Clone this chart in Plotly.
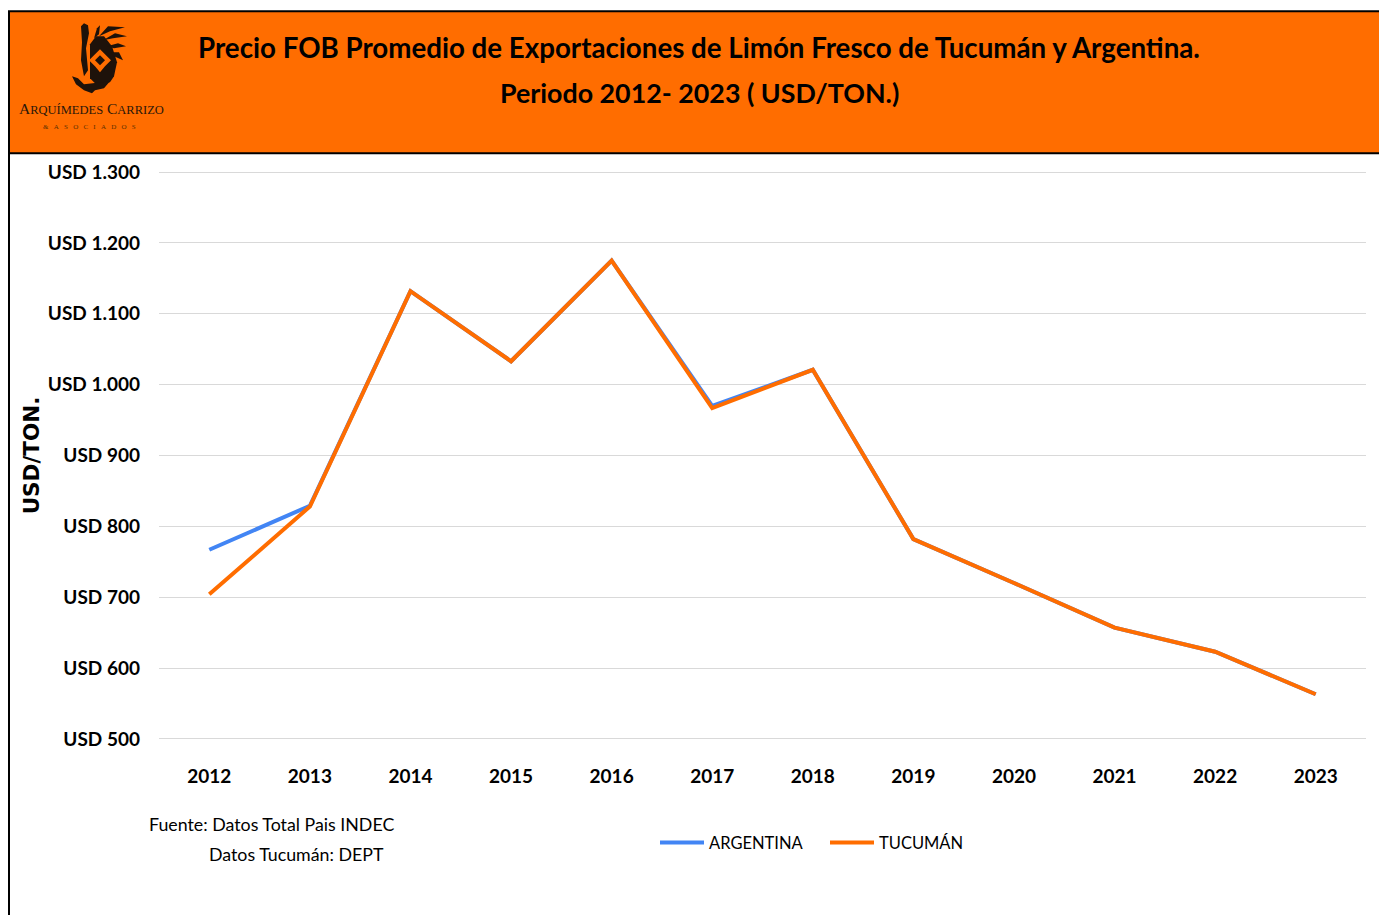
import plotly.graph_objects as go

W, H = 1379, 915
L, R = 159, 1366
Y_MIN, Y_MAX = 497, 1303
T, B = 169.87, 741.13

years = ["2012","2013","2014","2015","2016","2017","2018","2019","2020","2021","2022","2023"]
argentina = [767,829,1132,1033,1175,970,1021,782,720,657,623,563]
tucuman = [704,828,1132,1033,1175,967,1021,782,720,657,623,563]
tick_values = [500,600,700,800,900,1000,1100,1200,1300]
tick_labels = ["USD 500","USD 600","USD 700","USD 800","USD 900","USD 1.000","USD 1.100","USD 1.200","USD 1.300"]

ORANGE = "#FF6D00"
BLUE = "#4285F4"
DARK = "#1E120A"
NARROW = "Lato, sans-serif"

def px(x): return (x - L) / (R - L)
def py(y): return (B - y) / (B - T)

def to_path(points):
    return "M " + " L ".join(f"{px(x):.5f},{py(y):.5f}" for x, y in points) + " Z"

fig = go.Figure()
fig.add_trace(go.Scatter(x=years, y=argentina, name="ARGENTINA", mode="lines",
                         line=dict(color=BLUE, width=4)))
fig.add_trace(go.Scatter(x=years, y=tucuman, name="TUCUMÁN", mode="lines",
                         line=dict(color=ORANGE, width=4)))

shapes = [
    dict(type="rect", xref="paper", yref="paper", x0=px(9), x1=px(1385), y0=py(153), y1=py(11),
         fillcolor=ORANGE, line=dict(color="#000000", width=2), layer="above"),
    dict(type="line", xref="paper", yref="paper", x0=px(9), x1=px(9), y0=py(153), y1=py(920),
         line=dict(color="#000000", width=2), layer="above"),
]
logo_parts = [
    ([(90,44),(96,36),(104,36),(112,46),(117,62),(114,76),(110,82),(96,84),(90,78)], DARK),
    ([(81,26),(84,23),(88,25),(89,33),(86,48),(88,70),(84,76),(81,60),(82,42)], DARK),
    ([(72,76),(78,78),(84,84),(110,81),(104,88),(95,90),(92,93),(84,90),(76,84)], DARK),
    ([(100,49),(105,54),(111,60),(105,66),(100,72),(95,66),(89,60),(95,54)], ORANGE),
    ([(100,55),(105,60),(100,65),(95,60)], DARK),
    ([(94,38),(97,28),(100,25),(99,34)], DARK),
    ([(99,36),(108,26),(125,27),(110,31)], DARK),
    ([(103,40),(115,33),(127,36),(113,38)], DARK),
    ([(107,46),(118,43),(126,46),(114,48)], DARK),
    ([(110,52),(119,52),(123,60),(114,56)], DARK),
]
for pts, colour in logo_parts:
    shapes.append(dict(type="path", xref="paper", yref="paper", layer="above", path=to_path(pts),
                       fillcolor=colour, line=dict(width=0)))

def note(x, y, text, size, color="#000000", bold=False, family=NARROW, anchor="center"):
    return dict(xref="paper", yref="paper", x=px(x), y=py(y), text=f"<b>{text}</b>" if bold else text,
                showarrow=False, xanchor=anchor, yanchor="middle",
                font=dict(family=family, size=size, color=color))

wide = "\u00a0\u00a0\u00a0"
annotations = [
    note(699, 47, "Precio FOB Promedio de Exportaciones de Limón Fresco de Tucumán y Argentina.", 27.7, bold=True),
    note(699, 93, "Periodo 2012- 2023 ( USD/TON.)", 26.8, bold=True),
    note(91, 108, "A<span style='font-size:12.5px'>RQUÍMEDES</span> C<span style='font-size:12.5px'>ARRIZO</span>", 15.5,
         color="#2A170A", family="Liberation Serif, serif"),
    note(89, 127, wide.join("&ASOCIADOS"), 7, color="#5A3000", family="Liberation Serif, serif"),
    note(147, 824, "Fuente: Datos Total Pais INDEC", 17.8, anchor="left"),
    note(207, 854, "Datos Tucumán: DEPT", 17.8, anchor="left"),
]

fig.update_layout(
    width=W, height=H,
    margin=dict(l=L, r=W-R, t=T, b=H-B, autoexpand=False),
    paper_bgcolor="#FFFFFF", plot_bgcolor="#FFFFFF",
    shapes=shapes, annotations=annotations,
    showlegend=True,
    legend=dict(orientation="h", x=px(825), y=py(843), xanchor="center", yanchor="middle",
                font=dict(family=NARROW, size=16.5, color="#000000"), bgcolor="rgba(0,0,0,0)",
                itemwidth=44, entrywidth=111, entrywidthmode="pixels", tracegroupgap=0),
    xaxis=dict(type="category", categoryorder="array", categoryarray=years, range=[-0.5, 11.5],
               showgrid=False, showline=False, ticks="", ticklabelstandoff=22,
               tickfont=dict(family=NARROW, size=19, color="#000000", weight="bold")),
    yaxis=dict(range=[Y_MIN, Y_MAX], tickvals=tick_values, ticktext=tick_labels,
               showgrid=True, gridcolor="#D9D9D9", gridwidth=1, zeroline=False, showline=False,
               ticks="", ticklabelstandoff=18,
               tickfont=dict(family=NARROW, size=19, color="#000000", weight="bold"),
               title=dict(text="<b>USD/TON.</b>", standoff=2,
                          font=dict(family="DejaVu Sans, sans-serif", size=21.5, color="#000000"))),
)
fig.write_html("out.html", config=dict(displayModeBar=False),
               post_script="document.body.style.margin='0';document.body.style.overflow='hidden';")
